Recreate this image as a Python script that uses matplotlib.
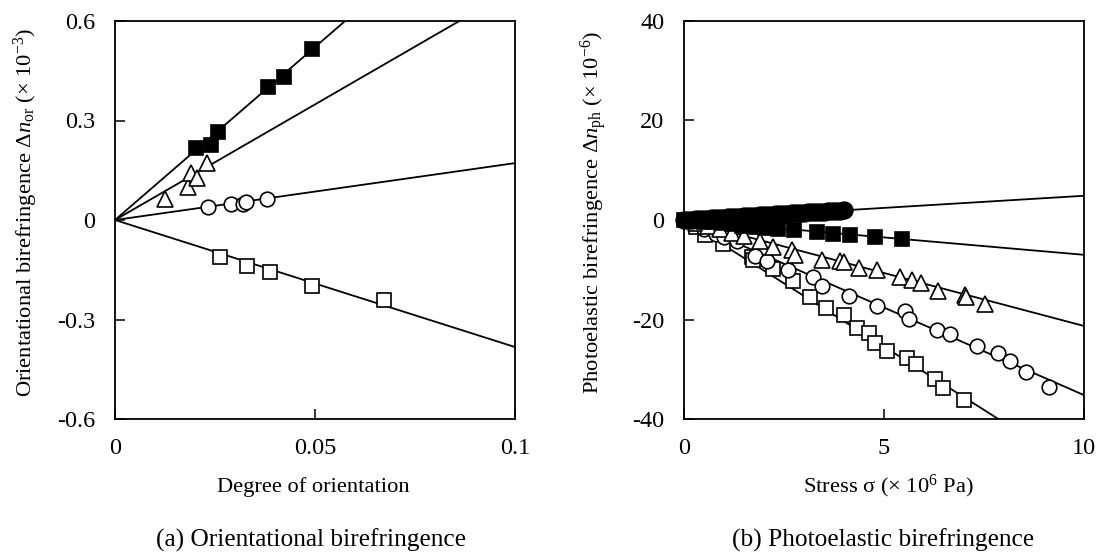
import matplotlib
matplotlib.use("Agg")
import matplotlib.pyplot as plt
import numpy as np

plt.rcParams['font.family'] = ['Liberation Serif', 'DejaVu Serif']
plt.rcParams['mathtext.fontset'] = 'custom'
plt.rcParams['mathtext.rm'] = 'Liberation Serif'
plt.rcParams['mathtext.it'] = 'Liberation Serif:italic'
plt.rcParams['axes.unicode_minus'] = False

# ---------------- Panel (a) data ----------------
a_fsq_x = [0.0203, 0.0240, 0.0258, 0.0383, 0.0422, 0.0492]
a_fsq_y = [0.216, 0.227, 0.264, 0.400, 0.431, 0.517]
a_tri_x = [0.0125, 0.0182, 0.0190, 0.0206, 0.0231]
a_tri_y = [0.064, 0.101, 0.143, 0.126, 0.172]
a_cir_x = [0.0233, 0.0289, 0.0321, 0.0327, 0.0379]
a_cir_y = [0.039, 0.048, 0.048, 0.055, 0.062]
a_osq_x = [0.0262, 0.0329, 0.0388, 0.0493, 0.0673]
a_osq_y = [-0.113, -0.138, -0.156, -0.198, -0.242]
a_slopes = [10.43, 6.97, 1.715, -3.83]
a_xticks = [0, 0.05, 0.1]
a_xticklabels = ['0', '0.05', '0.1']
a_yticks = [-0.6, -0.3, 0, 0.3, 0.6]
a_yticklabels = ['-0.6', '-0.3', '0', '0.3', '0.6']

# ---------------- Panel (b) data ----------------
b_fcir_x = [0.00, 0.10, 0.20, 0.30, 0.40, 0.50, 0.60, 0.70, 0.80, 0.90, 1.00,
            1.10, 1.20, 1.30, 1.40, 1.50, 1.60, 1.70, 1.80, 1.90, 2.00, 2.10,
            2.20, 2.30, 2.40, 2.50, 2.60, 2.70, 2.80, 2.90, 3.00, 3.10, 3.20,
            3.30, 3.40, 3.50, 3.60, 3.70, 3.80, 3.90, 4.00]
b_fcir_y = [0.00, 0.05, 0.10, 0.14, 0.19, 0.24, 0.29, 0.34, 0.39, 0.44, 0.49,
            0.53, 0.58, 0.63, 0.68, 0.73, 0.78, 0.83, 0.88, 0.92, 0.97, 1.02,
            1.07, 1.12, 1.17, 1.22, 1.27, 1.31, 1.36, 1.41, 1.46, 1.51, 1.56,
            1.61, 1.66, 1.70, 1.75, 1.80, 1.85, 1.90, 1.95]
b_fsq_x = [0.0, 0.25, 0.5, 0.75, 1.0, 1.2, 1.44, 1.8, 2.03, 2.36, 2.75, 3.32,
           3.73, 4.15, 4.77, 5.44]
b_fsq_y = [0.0, -0.2, -0.35, -0.5, -0.7, -0.85, -1.2, -1.4, -1.7, -1.8, -2.1,
           -2.5, -2.8, -3.1, -3.5, -3.9]
b_tri_x = [0.3, 0.6, 0.9, 1.2, 1.5, 1.9, 2.22, 2.71, 2.78, 3.46, 3.9, 4.0,
           4.38, 4.82, 5.4, 5.71, 5.92, 6.36, 7.03, 7.04, 7.53]
b_tri_y = [-0.6, -1.3, -1.9, -2.6, -3.2, -4.2, -5.5, -6.0, -7.0, -8.0, -8.2,
           -8.5, -9.7, -10.0, -11.5, -12.0, -12.7, -14.3, -15.0, -15.5, -16.8]
b_cir_x = [0.5, 0.8, 1.0, 1.32, 1.78, 2.07, 2.61, 3.22, 3.44, 4.13, 4.82, 5.53,
           5.63, 6.32, 6.65, 7.32, 7.86, 8.15, 8.55, 9.13]
b_cir_y = [-1.8, -2.8, -3.5, -4.3, -7.2, -8.3, -10.0, -11.5, -13.2, -15.2,
           -17.2, -18.2, -19.8, -22.2, -23.0, -25.3, -26.8, -28.3, -30.5, -33.5]
b_osq_x = [0.3, 0.53, 0.98, 1.69, 1.73, 2.22, 2.73, 3.15, 3.55, 4.0, 4.32,
           4.63, 4.78, 5.08, 5.57, 5.8, 6.28, 6.47, 7.0]
b_osq_y = [-1.5, -3.0, -4.9, -7.5, -8.0, -9.9, -12.2, -15.5, -17.7, -19.0,
           -21.7, -22.7, -24.8, -26.3, -27.7, -29.0, -31.9, -33.7, -36.1]
b_slopes = [0.487, -0.70, -2.13, -3.52, -5.09]
b_xticks = [0, 5, 10]
b_xticklabels = ['0', '5', '10']
b_yticks = [-40, -20, 0, 20, 40]
b_yticklabels = ['-40', '-20', '0', '20', '40']

W, H = 1097, 556
fig = plt.figure(figsize=(W / 100, H / 100), dpi=100)
axa = fig.add_axes([115 / W, 1 - 419 / H, 400 / W, 398 / H])
axb = fig.add_axes([684 / W, 1 - 419 / H, 400 / W, 398 / H])

LW = 1.3
TICKFS = 17.5
LABFS = 16.2
CAPFS = 18.3
ms_sq = 10.5
ms_ci = 10.5
ms_tr = 11
ms_fci = 12
mew = 1.2


def style(ax, xt, xtl, yt, ytl, xlim, ylim):
    ax.set_xlim(*xlim)
    ax.set_ylim(*ylim)
    ax.set_xticks(xt)
    ax.set_xticklabels(xtl)
    ax.set_yticks(yt)
    ax.set_yticklabels(ytl)
    ax.tick_params(direction='in', length=7, width=1.1, labelsize=TICKFS,
                   pad=14, top=False, right=False)
    for s in ax.spines.values():
        s.set_linewidth(1.3)


# ---- panel (a)
xl = np.array([0.0, 0.1])
for k in a_slopes:
    axa.plot(xl, k * xl, color='black', lw=LW, zorder=2)
axa.plot(a_fsq_x, a_fsq_y, 's', ms=ms_sq, mfc='black', mec='black', mew=mew, zorder=3)
axa.plot(a_tri_x, a_tri_y, '^', ms=ms_tr, mfc='white', mec='black', mew=mew, zorder=3)
axa.plot(a_cir_x, a_cir_y, 'o', ms=ms_ci, mfc='white', mec='black', mew=mew, zorder=3)
axa.plot(a_osq_x, a_osq_y, 's', ms=ms_sq, mfc='white', mec='black', mew=mew, zorder=3)
style(axa, a_xticks, a_xticklabels, a_yticks, a_yticklabels, (0, 0.1), (-0.6, 0.6))
axa.set_xlabel('Degree of orientation', fontsize=LABFS, va='baseline')
axa.xaxis.set_label_coords(0.495, -0.1834)
axa.set_ylabel('Orientational birefringence $\\Delta \\mathit{n}_{\\mathrm{or}}$ ($\\times$ 10$^{\u22123}$)',
               fontsize=LABFS)
axa.yaxis.set_label_coords(-0.1875, 0.52)

# ---- panel (b)
xl = np.array([0.0, 10.0])
for k in b_slopes:
    axb.plot(xl, k * xl, color='black', lw=LW, zorder=2)
axb.plot(b_osq_x, b_osq_y, 's', ms=ms_sq, mfc='white', mec='black', mew=mew, zorder=3, clip_on=False)
axb.plot(b_cir_x, b_cir_y, 'o', ms=ms_ci, mfc='white', mec='black', mew=mew, zorder=3, clip_on=False)
axb.plot(b_tri_x, b_tri_y, '^', ms=ms_tr, mfc='white', mec='black', mew=mew, zorder=3, clip_on=False)
axb.plot(b_fsq_x, b_fsq_y, 's', ms=ms_sq, mfc='black', mec='black', mew=mew, zorder=4, clip_on=False)
axb.plot(b_fcir_x, b_fcir_y, 'o', ms=ms_fci, mfc='black', mec='black', mew=mew, zorder=5, clip_on=False)
style(axb, b_xticks, b_xticklabels, b_yticks, b_yticklabels, (0, 10), (-40, 40))
axb.set_xlabel(r'Stress σ ($\times$ 10$^{6}$ Pa)', fontsize=LABFS, va='baseline')
axb.xaxis.set_label_coords(0.51, -0.1834)
axb.set_ylabel('Photoelastic birefringence $\\Delta \\mathit{n}_{\\mathrm{ph}}$ ($\\times$ 10$^{\u22126}$)',
               fontsize=LABFS)
axb.yaxis.set_label_coords(-0.1875, 0.52)

fig.text(311 / W, 1 - 540 / H, '(a) Orientational birefringence', fontsize=CAPFS,
         ha='center', va='center')
fig.text(883 / W, 1 - 540 / H, '(b) Photoelastic birefringence', fontsize=CAPFS,
         ha='center', va='center')

fig.savefig('out.png', dpi=100)
